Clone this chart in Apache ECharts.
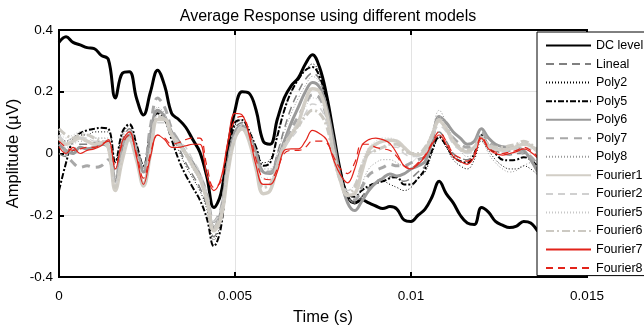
<!DOCTYPE html>
<html><head><meta charset="utf-8">
<script src="https://cdn.jsdelivr.net/npm/echarts@6/dist/echarts.min.js"></script>
<style>html,body{margin:0;padding:0;background:#fff}#c{width:644px;height:329px}</style>
</head><body><div id="c"></div>
<script>
// time grid: 0 .. 0.0136 s, step 0.0002 s
const time = [];
for (let i = 0; i <= 68; i++) time.push(+(i * 0.0002).toFixed(4));

const seriesNames = ["DC level","Lineal","Poly2","Poly5","Poly6","Poly7","Poly8","Fourier1","Fourier2","Fourier5","Fourier6","Fourier7","Fourier8"];
const xTicks = [0, 0.005, 0.01, 0.015];
const yTicks = [-0.4, -0.2, 0, 0.2, 0.4];

const dcLevel = [0.36,0.378,0.36,0.352,0.343,0.34,0.318,0.305,0.18,0.26,0.265,0.18,0.125,0.2,0.27,0.22,0.13,0.11,0.085,0.045,0.005,-0.075,-0.175,-0.13,0.02,0.14,0.2,0.195,0.14,0.04,0.03,0.11,0.18,0.22,0.245,0.29,0.32,0.28,0.19,0.065,-0.06,-0.14,-0.16,-0.15,-0.16,-0.17,-0.178,-0.172,-0.18,-0.215,-0.22,-0.2,-0.18,-0.14,-0.09,-0.13,-0.16,-0.2,-0.225,-0.23,-0.175,-0.19,-0.22,-0.232,-0.24,-0.235,-0.22,-0.225,-0.252];
const lineal = [0.0,-0.01,0.01,0.03,0.03,0.035,0.04,0.04,-0.06,0.04,0.08,0.02,-0.05,0.06,0.14,0.12,0.06,0.02,-0.03,-0.07,-0.11,-0.17,-0.27,-0.21,-0.04,0.08,0.1,0.06,0.0,-0.06,-0.06,0.0,0.08,0.15,0.2,0.24,0.26,0.24,0.16,0.04,-0.07,-0.14,-0.16,-0.14,-0.11,-0.09,-0.08,-0.075,-0.08,-0.09,-0.08,-0.06,-0.04,0.02,0.07,0.04,0.0,-0.015,-0.02,0.0,0.06,0.03,0.01,0.0,-0.005,0.0,0.0,-0.01,-0.035];
const poly2 = [0.05,0.04,0.05,0.06,0.06,0.07,0.07,0.07,-0.03,0.06,0.09,0.03,-0.04,0.07,0.14,0.12,0.06,0.01,-0.04,-0.08,-0.12,-0.18,-0.28,-0.22,-0.03,0.09,0.11,0.08,0.02,-0.03,-0.02,0.06,0.14,0.2,0.24,0.27,0.29,0.26,0.17,0.04,-0.08,-0.15,-0.16,-0.14,-0.12,-0.1,-0.09,-0.1,-0.11,-0.12,-0.11,-0.08,-0.06,0.0,0.05,0.02,-0.02,-0.04,-0.05,-0.02,0.04,0.01,-0.02,-0.04,-0.05,-0.05,-0.04,-0.05,-0.07];
const poly5 = [-0.12,-0.03,0.045,0.066,0.075,0.08,0.083,0.08,-0.027,0.07,0.095,0.03,-0.04,0.07,0.13,0.11,0.045,-0.02,-0.07,-0.11,-0.15,-0.21,-0.3,-0.24,-0.03,0.1,0.108,0.07,0.02,-0.04,-0.03,0.055,0.14,0.2,0.24,0.27,0.28,0.25,0.17,0.05,-0.06,-0.13,-0.14,-0.12,-0.105,-0.096,-0.09,-0.08,-0.076,-0.1,-0.1,-0.08,-0.05,0.01,0.054,0.025,-0.01,-0.025,-0.03,0.0,0.06,0.025,0.0,-0.02,-0.022,-0.02,-0.012,-0.02,-0.043];
const poly6 = [0.03,0.01,0.0,0.02,0.015,0.02,0.03,0.02,-0.09,0.02,0.06,0.0,-0.06,0.06,0.14,0.12,0.07,0.04,0.0,-0.03,-0.07,-0.14,-0.24,-0.19,-0.03,0.07,0.09,0.06,0.0,-0.06,-0.065,-0.02,0.04,0.1,0.15,0.2,0.23,0.215,0.15,0.04,-0.08,-0.16,-0.185,-0.155,-0.12,-0.095,-0.08,-0.066,-0.073,-0.066,-0.05,-0.04,-0.026,0.04,0.12,0.1,0.07,0.05,0.03,0.04,0.08,0.05,0.03,0.022,0.02,0.018,0.01,-0.02,-0.06];
const poly7 = [0.06,0.0,-0.03,-0.045,-0.04,-0.045,-0.04,-0.02,-0.08,0.03,0.07,0.01,-0.05,0.09,0.18,0.15,0.08,0.04,0.0,-0.03,-0.07,-0.13,-0.22,-0.18,-0.03,0.06,0.08,0.05,-0.01,-0.06,-0.06,-0.02,0.03,0.08,0.12,0.16,0.19,0.18,0.12,0.02,-0.08,-0.14,-0.15,-0.11,-0.07,-0.055,-0.045,-0.035,-0.04,-0.04,-0.03,-0.02,-0.01,0.05,0.11,0.08,0.05,0.03,0.02,0.03,0.07,0.04,0.02,0.01,0.01,0.01,0.0,-0.01,-0.04];
const poly8 = [0.03,0.02,0.03,0.04,0.04,0.05,0.05,0.05,-0.05,0.05,0.08,0.02,-0.05,0.06,0.15,0.13,0.07,0.03,-0.01,-0.05,-0.09,-0.15,-0.25,-0.2,-0.04,0.07,0.09,0.06,0.0,-0.05,-0.05,0.0,0.07,0.13,0.18,0.22,0.25,0.23,0.16,0.04,-0.07,-0.14,-0.15,-0.1,-0.05,-0.03,-0.02,-0.02,-0.03,-0.04,-0.03,-0.01,0.01,0.07,0.14,0.1,0.05,0.01,-0.01,0.0,0.05,0.0,-0.03,-0.05,-0.06,-0.055,-0.04,-0.03,-0.05];
const fourier1 = [0.05,0.03,0.04,0.05,0.04,0.03,0.035,0.02,-0.12,-0.02,0.045,-0.02,-0.105,0.0,0.11,0.11,0.06,0.03,0.0,-0.04,-0.08,-0.15,-0.25,-0.21,-0.06,0.05,0.08,0.04,-0.05,-0.13,-0.12,-0.04,0.02,0.06,0.1,0.17,0.21,0.2,0.13,0.0,-0.09,-0.135,-0.13,-0.06,0.01,0.03,0.04,0.043,0.04,0.02,0.0,-0.005,0.01,0.06,0.105,0.08,0.04,0.015,0.005,0.02,0.05,0.025,0.015,0.011,0.015,0.022,0.03,0.025,0.005];
const fourier2 = [0.06,0.04,0.05,0.05,0.05,0.04,0.04,0.03,-0.1,-0.01,0.05,-0.01,-0.09,0.01,0.1,0.1,0.06,0.04,0.02,-0.02,-0.06,-0.13,-0.22,-0.18,-0.04,0.06,0.09,0.05,-0.03,-0.1,-0.1,-0.04,0.02,0.05,0.08,0.13,0.16,0.15,0.1,0.0,-0.08,-0.12,-0.1,-0.04,0.0,0.01,0.02,0.02,0.02,0.0,-0.01,-0.01,0.0,0.05,0.09,0.07,0.03,0.01,0.0,0.01,0.045,0.02,0.01,0.005,0.01,0.015,0.02,0.015,0.0];
const fourier5 = [0.07,0.05,0.06,0.07,0.06,0.05,0.05,0.04,-0.09,0.0,0.06,0.0,-0.08,0.03,0.12,0.12,0.07,0.04,0.01,-0.03,-0.07,-0.14,-0.23,-0.19,-0.05,0.06,0.09,0.06,-0.02,-0.08,-0.08,-0.03,0.03,0.07,0.11,0.15,0.18,0.17,0.11,0.01,-0.08,-0.12,-0.1,-0.03,0.02,0.04,0.05,0.05,0.04,0.02,0.0,0.0,0.02,0.07,0.12,0.09,0.05,0.02,0.01,0.02,0.06,0.03,0.02,0.015,0.02,0.03,0.04,0.03,0.01];
const fourier6 = [0.08,0.06,0.05,0.06,0.06,0.05,0.04,0.03,-0.11,-0.01,0.05,-0.01,-0.1,0.01,0.12,0.11,0.06,0.03,0.0,-0.04,-0.08,-0.15,-0.24,-0.2,-0.05,0.05,0.08,0.05,-0.03,-0.11,-0.1,-0.04,0.03,0.06,0.09,0.12,0.14,0.13,0.09,-0.01,-0.09,-0.13,-0.11,-0.04,0.0,0.01,0.02,0.03,0.03,0.01,0.0,0.0,0.02,0.06,0.11,0.08,0.04,0.02,0.01,0.02,0.05,0.03,0.02,0.02,0.025,0.03,0.04,0.03,0.01];
const fourier7 = [0.022,0.0,0.02,0.0,0.01,0.015,0.025,0.045,-0.05,0.04,0.07,-0.01,-0.1,-0.01,0.06,0.045,0.02,0.02,0.025,0.03,0.03,-0.07,-0.12,-0.08,0.04,0.13,0.125,0.06,-0.04,-0.1,-0.1,-0.06,0.01,0.015,0.015,0.04,0.075,0.065,0.045,-0.02,-0.07,-0.095,-0.05,0.025,0.045,0.05,0.045,0.033,0.0,-0.04,-0.05,-0.035,-0.01,0.03,0.06,0.03,-0.01,-0.026,-0.035,-0.01,0.05,0.015,0.0,-0.005,0.0,0.006,0.015,0.005,-0.015];
const fourier8 = [0.04,0.02,0.01,0.015,0.02,0.02,0.03,0.04,-0.04,0.03,0.06,0.0,-0.08,0.0,0.06,0.05,0.03,0.035,0.045,0.05,0.05,-0.04,-0.11,-0.09,0.03,0.11,0.12,0.07,-0.02,-0.08,-0.085,-0.05,0.0,0.01,0.01,0.02,0.04,0.04,0.035,-0.01,-0.05,-0.065,-0.03,0.03,0.03,0.02,0.015,0.01,-0.01,-0.04,-0.045,-0.03,-0.005,0.035,0.07,0.04,0.0,-0.015,-0.025,0.0,0.055,0.02,0.005,0.0,0.005,0.01,0.02,0.01,-0.01];

const values = [dcLevel, lineal, poly2, poly5, poly6, poly7, poly8, fourier1, fourier2, fourier5, fourier6, fourier7, fourier8];
const styles = [
  {color:'#000000', width:3, type:'solid'},
  {color:'#808080', width:1.5, type:[8,5]},
  {color:'#000000', width:1, type:[1,2]},
  {color:'#000000', width:2, type:[6,2,2,2]},
  {color:'#9a9a9a', width:3, type:'solid'},
  {color:'#a8a8a8', width:3, type:[8,6]},
  {color:'#9a9a9a', width:1, type:[1,2]},
  {color:'#d2cec6', width:3.5, type:'solid'},
  {color:'#d0d0d0', width:1.5, type:[7,5]},
  {color:'#c8c8c8', width:1, type:[1,2]},
  {color:'#ccc9c2', width:3, type:[8,3,2,3]},
  {color:'#e2231a', width:1.2, type:'solid'},
  {color:'#e2231a', width:1.2, type:[7,5]}
];

const font = 'Liberation Sans, Arial, sans-serif';
const series = seriesNames.map((name, k) => ({
  name: name,
  type: 'line',
  xAxisIndex: 0, yAxisIndex: 0,
  showSymbol: false, symbol: 'none',
  smooth: 0.4,
  animation: false,
  color: styles[k].color,
  lineStyle: {color: styles[k].color, width: styles[k].width, type: styles[k].type},
  data: time.map((t, i) => [t, values[k][i]])
}));

const chart = echarts.init(document.getElementById('c'), null, {renderer: 'canvas'});
chart.setOption({
  animation: false,
  backgroundColor: '#ffffff',
  title: {
    text: 'Average Response using different models',
    left: 323, top: 3, textAlign: 'center',
    textStyle: {fontFamily: font, fontSize: 16, fontWeight: 'normal', color: '#000', lineHeight: 18}
  },
  grid: {left: 59, right: 57, top: 30, bottom: 52, show: true, borderColor: '#000', borderWidth: 2,
         backgroundColor: 'transparent', containLabel: false, outerBoundsMode: 'none'},
  legend: {
    orient: 'vertical', left: 537, top: 32,
    padding: [7, 20, 1, 8],
    backgroundColor: '#ffffff', borderColor: '#000', borderWidth: 1,
    itemWidth: 45, itemHeight: 10, itemGap: 5.55,
    itemStyle: {color: 'rgba(0,0,0,0)', borderColor: 'rgba(0,0,0,0)', borderWidth: 0, opacity: 0},
    textStyle: {fontFamily: font, fontSize: 12.5, color: '#000', lineHeight: 12},
    data: seriesNames
  },
  xAxis: [{
    type: 'value', min: 0, max: 0.015, interval: 0.005,
    name: 'Time (s)', nameLocation: 'middle', nameGap: 32, nameMoveOverlap: false,
    nameTextStyle: {fontFamily: font, fontSize: 16.5, color: '#000'},
    axisLine: {show: true, onZero: false, lineStyle: {color: '#000', width: 2}},
    axisTick: {show: true, inside: true, length: 5, lineStyle: {color: '#000', width: 2}},
    axisLabel: {fontFamily: font, fontSize: 13.5, color: '#000', margin: 12},
    splitLine: {show: true, lineStyle: {color: '#e3e3e3', width: 1}}
  }, {
    type: 'value', position: 'top', min: 0, max: 0.015, interval: 0.005,
    axisLine: {show: true, onZero: false, lineStyle: {color: '#000', width: 2}},
    axisTick: {show: true, inside: true, length: 5, lineStyle: {color: '#000', width: 2}},
    axisLabel: {show: false}, splitLine: {show: false}
  }],
  yAxis: [{
    type: 'value', min: -0.4, max: 0.4, interval: 0.2,
    name: 'Amplitude (µV)', nameLocation: 'middle', nameGap: 37, nameMoveOverlap: false,
    nameTextStyle: {fontFamily: font, fontSize: 16.5, color: '#000'},
    axisLine: {show: true, onZero: false, lineStyle: {color: '#000', width: 2}},
    axisTick: {show: true, inside: true, length: 5, lineStyle: {color: '#000', width: 2}},
    axisLabel: {fontFamily: font, fontSize: 13.5, color: '#000', margin: 6},
    splitLine: {show: true, lineStyle: {color: '#e3e3e3', width: 1}}
  }],
  series: series
});
</script></body></html>
